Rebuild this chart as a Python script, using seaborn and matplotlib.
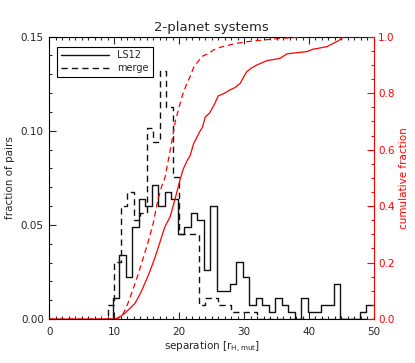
import numpy as np
import pandas as pd
import seaborn as sns
import matplotlib
matplotlib.use("Agg")
import matplotlib.pyplot as plt
from matplotlib.ticker import MultipleLocator

# histogram: fraction of pairs per unit bin
ls12_first_edge = 9.8
ls12_frac = [0.0113, 0.0338, 0.0226, 0.0489, 0.0639, 0.0602, 0.0714, 0.0602,
             0.0677, 0.0639, 0.0451, 0.0489, 0.0564, 0.0526, 0.0263, 0.0602,
             0.0150, 0.0150, 0.0188, 0.0301, 0.0226, 0.0075, 0.0113, 0.0075,
             0.0038, 0.0113, 0.0075, 0.0038, 0.0, 0.0113, 0.0038, 0.0038,
             0.0075, 0.0075, 0.0188, 0.0, 0.0, 0.0, 0.0038, 0.0075, 0.0075]

merge_first_edge = 9.0
merge_frac = [0.0075, 0.0301, 0.0602, 0.0677, 0.0526, 0.0564, 0.1015, 0.0940,
              0.1316, 0.1128, 0.0752, 0.0451, 0.0451, 0.0451, 0.0075, 0.0113,
              0.0113, 0.0075, 0.0075, 0.0038, 0.0038, 0.0038, 0.0038]

# cumulative fractions (right axis)
ls12_cum_x = [0, 10.1, 11.0, 11.6, 12.5, 13.2, 14.0, 14.7, 15.5, 16.3, 17.0,
              17.8, 18.6, 19.3, 20.1, 20.6, 21.2, 21.7, 22.2, 23.2, 23.6, 24.0,
              24.7, 25.5, 26.0, 27.0, 27.8, 28.6, 29.4, 30.0, 30.4, 31.2, 32.0,
              33.5, 35.5, 36.6, 38.0, 39.7, 40.5, 41.7, 42.8, 43.8, 44.5, 45.1,
              45.3, 50]
ls12_cum_y = [0, 0, 0.01, 0.02, 0.04, 0.056, 0.09, 0.126, 0.17, 0.22, 0.27,
              0.327, 0.362, 0.42, 0.49, 0.53, 0.56, 0.58, 0.62, 0.665, 0.68, 0.715,
              0.73, 0.764, 0.79, 0.80, 0.811, 0.82, 0.835, 0.86, 0.876, 0.89, 0.90,
              0.915, 0.923, 0.939, 0.943, 0.947, 0.955, 0.96, 0.965, 0.977, 0.985, 0.995,
              1.0, 1.0]

merge_cum_x = [0, 10.5, 11.4, 12.0, 12.8, 13.7, 14.5, 15.3, 16.0, 16.7, 17.3,
               17.8, 18.3, 18.9, 19.4, 20.1, 20.6, 21.2, 21.7, 22.2, 23.0, 23.5,
               24.5, 25.3, 26.3, 27.8, 29.0, 30.4, 32.0, 35.5, 38.0, 39.6, 50]
merge_cum_y = [0, 0, 0.02, 0.05, 0.10, 0.16, 0.22, 0.28, 0.34, 0.42, 0.47,
               0.50, 0.56, 0.634, 0.70, 0.76, 0.80, 0.835, 0.86, 0.89, 0.915, 0.93,
               0.94, 0.953, 0.962, 0.971, 0.977, 0.982, 0.986, 0.994, 0.997, 1.0, 1.0]


def step_frame(first_edge, frac, x_end=None):
    edges = first_edge + np.arange(len(frac) + 1)
    x = [first_edge - 1] + list(edges)
    y = [0] + list(frac) + [frac[-1]]
    if x_end is not None:
        y[-1] = 0
        x = x + [x_end]
        y = y + [0]
    return pd.DataFrame({"x": x, "y": y})


sns.set_style("ticks")
plt.rcParams["font.family"] = ["DejaVu Sans"]
plt.rcParams["mathtext.fontset"] = "dejavusans"

fig = plt.figure(figsize=(4.15, 3.63), dpi=100)
ax = fig.add_axes([0.119, 0.121, 0.782, 0.778])
ax2 = ax.twinx()

ls12_df = step_frame(ls12_first_edge, ls12_frac)
merge_df = step_frame(merge_first_edge, merge_frac, x_end=50)

sns.lineplot(data=ls12_df, x="x", y="y", ax=ax, color="#111111", lw=1.0,
             drawstyle="steps-post", estimator=None, sort=False, label="LS12")
sns.lineplot(data=merge_df, x="x", y="y", ax=ax, color="#111111", lw=1.0,
             drawstyle="steps-post", estimator=None, sort=False, label="merge")
ax.lines[-1].set_dashes([4.5, 3])

sns.lineplot(x=ls12_cum_x, y=ls12_cum_y, ax=ax2, color="red", lw=0.9,
             estimator=None, sort=False)
sns.lineplot(x=merge_cum_x, y=merge_cum_y, ax=ax2, color="red", lw=0.9,
             estimator=None, sort=False)
ax2.lines[-1].set_dashes([4.5, 3])

ax.set_xlim(0, 50)
ax.set_ylim(0, 0.15)
ax2.set_ylim(0, 1.0)

ax.xaxis.set_major_locator(MultipleLocator(10))
ax.xaxis.set_minor_locator(MultipleLocator(1))
ax.yaxis.set_major_locator(MultipleLocator(0.05))
ax.yaxis.set_minor_locator(MultipleLocator(0.01))
ax.yaxis.set_major_formatter(matplotlib.ticker.FormatStrFormatter("%.2f"))
ax2.yaxis.set_major_locator(MultipleLocator(0.2))
ax2.yaxis.set_minor_locator(MultipleLocator(0.05))
ax2.yaxis.set_major_formatter(matplotlib.ticker.FormatStrFormatter("%.1f"))

ax.tick_params(which="both", direction="in", top=True, right=False,
               labelsize=7.5, width=0.8, pad=4)
ax.tick_params(which="major", length=5)
ax.tick_params(which="minor", length=2.5)
ax.tick_params(axis="x", pad=6)
ax2.tick_params(which="both", direction="in", colors="red", labelsize=7.5,
                width=0.8, pad=3)
ax2.tick_params(which="major", length=5)
ax2.tick_params(which="minor", length=2.5)

for s in ["left", "bottom", "top"]:
    ax.spines[s].set_linewidth(0.8)
    ax.spines[s].set_color("black")
ax.spines["right"].set_visible(False)
ax2.spines["right"].set_color("red")
ax2.spines["right"].set_linewidth(0.8)
ax2.spines["left"].set_visible(False)
ax2.spines["top"].set_visible(False)
ax2.spines["bottom"].set_visible(False)

ax.set_title("2-planet systems", fontsize=9.5, pad=4)
ax.set_xlabel(r"separation [r$_{\rm H,mut}$]", fontsize=7.5, labelpad=2)
ax.set_ylabel("fraction of pairs", fontsize=7.5, labelpad=4)
ax2.set_ylabel("cumulative fraction", fontsize=7.5, color="red", labelpad=3)

ax.legend(loc="upper left", bbox_to_anchor=(0.023, 0.965), borderaxespad=0,
          fontsize=7, handlelength=5, frameon=True, fancybox=False,
          edgecolor="black", framealpha=1, borderpad=0.4, labelspacing=0.3)
ax.get_legend().get_frame().set_linewidth(0.8)
if ax2.get_legend() is not None:
    ax2.get_legend().remove()

fig.savefig("out.png", dpi=100)
